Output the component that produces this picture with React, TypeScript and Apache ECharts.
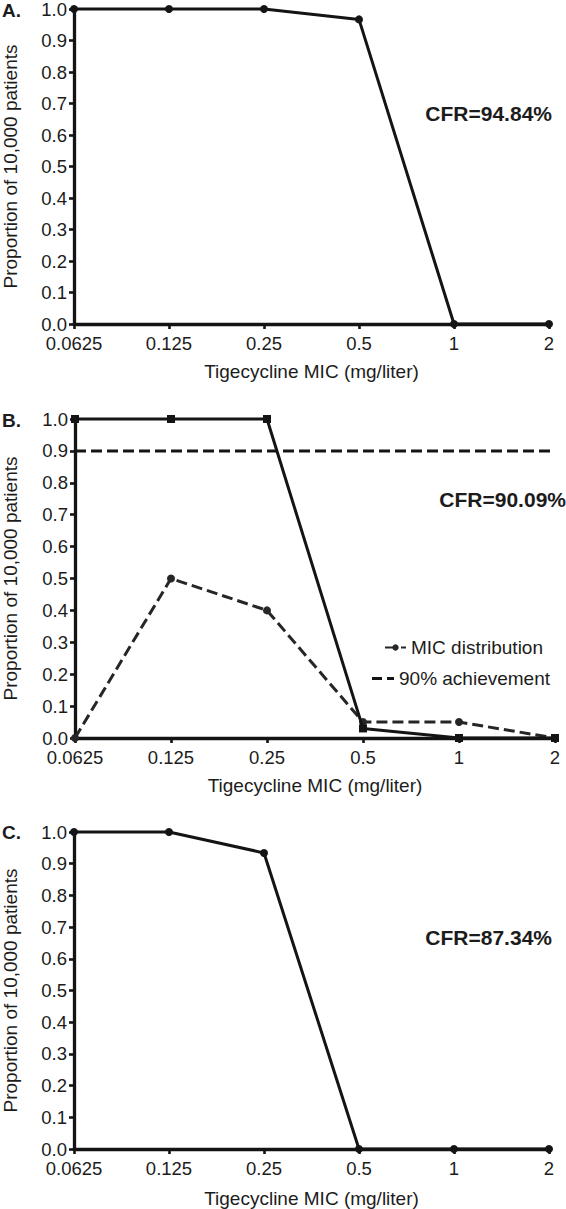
import React, { useEffect, useRef } from "react";
import * as echarts from "echarts";

const categories = ["0.0625", "0.125", "0.25", "0.5", "1", "2"];
const panelAProbability = [1, 1, 1, 0.967, 0, 0];
const panelBProbability = [1, 1, 1, 0.03, 0, 0];
const micDistribution = [0, 0.5, 0.4, 0.05, 0.05, 0];
const achievement90 = [0.9, 0.9, 0.9, 0.9, 0.9, 0.9];
const panelCProbability = [1, 1, 0.934, 0, 0, 0];
const panelLabels = ["A.", "B.", "C."];
const cfrLabels = ["CFR=94.84%", "CFR=90.09%", "CFR=87.34%"];
const xTitle = "Tigecycline MIC (mg/liter)";
const yTitle = "Proportion of 10,000 patients";

const FONT = "'Liberation Sans', Arial, Helvetica, sans-serif";
const INK = "#141414";
const TEXT = "#1c1c1c";

export default function App() {
  const ref = useRef<HTMLDivElement>(null);

  useEffect(() => {
    document.body.style.margin = "0";
    if (!ref.current) return;
    const chart = echarts.init(ref.current, undefined, { renderer: "svg" });

    const grids = [
      { left: 74, top: 9, width: 475, height: 315, outerBoundsMode: "none", containLabel: false },
      { left: 75, top: 419, width: 480, height: 319, outerBoundsMode: "none", containLabel: false },
      { left: 74, top: 832, width: 475, height: 317, outerBoundsMode: "none", containLabel: false },
    ];
    const nameGaps = [38, 38, 40];
    const yNameGaps = [54, 55, 54];

    const xAxes = grids.map((_, i) => ({
      type: "category",
      gridIndex: i,
      data: categories,
      boundaryGap: false,
      axisLine: { show: true, lineStyle: { color: INK, width: 3.3 } },
      axisTick: { show: true, alignWithLabel: true, length: 5, lineStyle: { color: INK, width: 2.6 } },
      axisLabel: {
        interval: 0,
        color: TEXT,
        fontSize: 18.5,
        lineHeight: 14,
        fontFamily: FONT,
        margin: 12,
      },
      splitLine: { show: false },
      name: xTitle,
      nameLocation: "middle",
      nameGap: nameGaps[i],
      nameTextStyle: { color: TEXT, fontSize: 19, fontFamily: FONT },
    }));

    const yAxes = grids.map((_, i) => ({
      type: "value",
      gridIndex: i,
      min: 0,
      max: 1,
      interval: 0.1,
      axisLine: { show: true, lineStyle: { color: INK, width: 3.3 } },
      axisTick: { show: true, length: 5, lineStyle: { color: INK, width: 2.6 } },
      axisLabel: {
        color: TEXT,
        fontSize: 18.5,
        lineHeight: 14,
        fontFamily: FONT,
        margin: 7,
        formatter: (v: number) => v.toFixed(1),
      },
      splitLine: { show: false },
      name: yTitle,
      nameLocation: "middle",
      nameGap: yNameGaps[i],
      nameTextStyle: { color: TEXT, fontSize: 19, fontFamily: FONT },
    }));

    const solid = (name: string, data: number[], idx: number, symbol: string, size: number) => ({
      type: "line",
      name,
      xAxisIndex: idx,
      yAxisIndex: idx,
      data,
      symbol,
      symbolSize: size,
      showSymbol: true,
      clip: false,
      lineStyle: { color: INK, width: 3, type: "solid" },
      itemStyle: { color: INK },
      z: 3,
    });

    const option = {
      animation: false,
      backgroundColor: "#ffffff",
      grid: grids,
      xAxis: xAxes,
      yAxis: yAxes,
      legend: [
        {
          data: ["MIC distribution"],
          left: 384,
          top: 638,
          padding: 0,
          itemWidth: 21,
          itemHeight: 8,
          textStyle: { color: TEXT, fontSize: 19, fontFamily: FONT },
        },
        {
          data: [
            {
              name: "90% achievement",
              icon: "path://M0,0h10v3h-10zM15,0h7v3h-7z",
            },
          ],
          left: 372,
          top: 669,
          padding: 0,
          itemWidth: 22,
          itemHeight: 3,
          textStyle: { color: TEXT, fontSize: 19, fontFamily: FONT },
        },
      ],
      series: [
        solid("Panel A", panelAProbability, 0, "circle", 8),
        solid("Panel B", panelBProbability, 1, "rect", 8),
        {
          type: "line",
          name: "MIC distribution",
          xAxisIndex: 1,
          yAxisIndex: 1,
          data: micDistribution,
          symbol: "circle",
          symbolSize: 8,
          clip: false,
          lineStyle: { color: "#262626", width: 3, type: [11, 5] },
          itemStyle: { color: "#262626" },
          z: 2,
        },
        {
          type: "line",
          name: "90% achievement",
          xAxisIndex: 1,
          yAxisIndex: 1,
          data: achievement90,
          symbol: "none",
          showSymbol: false,
          clip: false,
          lineStyle: { color: INK, width: 3, type: [11, 5] },
          itemStyle: { color: INK },
          z: 2,
        },
        solid("Panel C", panelCProbability, 2, "circle", 8),
      ],
      graphic: [
        ...panelLabels.map((t, i) => ({
          type: "text",
          left: 2,
          top: [1, 411, 823][i],
          style: { text: t, fill: TEXT, font: `bold 19px ${FONT}` },
        })),
        {
          type: "text",
          style: { text: cfrLabels[0], x: 552, y: 113, textAlign: "right", textVerticalAlign: "middle", fill: TEXT, font: `bold 21px ${FONT}` },
        },
        {
          type: "text",
          style: { text: cfrLabels[1], x: 566, y: 499, textAlign: "right", textVerticalAlign: "middle", fill: TEXT, font: `bold 21px ${FONT}` },
        },
        {
          type: "text",
          style: { text: cfrLabels[2], x: 552, y: 937, textAlign: "right", textVerticalAlign: "middle", fill: TEXT, font: `bold 21px ${FONT}` },
        },
      ],
    };

    chart.setOption(option as any);
    return () => chart.dispose();
  }, []);

  return <div ref={ref} style={{ width: 566, height: 1209 }} />;
}
